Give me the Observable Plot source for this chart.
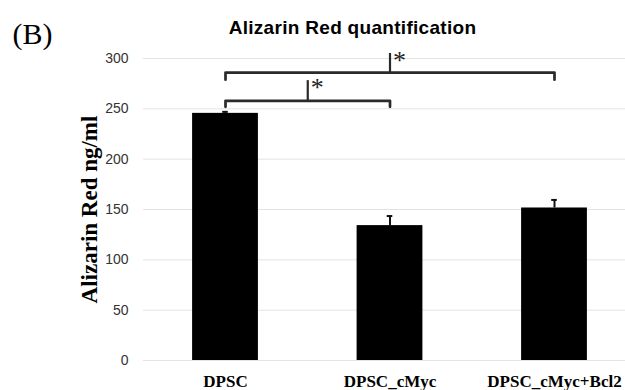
<!DOCTYPE html>
<html>
<head>
<meta charset="utf-8">
<script src="https://cdn.jsdelivr.net/npm/d3@7"></script>
<script src="https://cdn.jsdelivr.net/npm/@observablehq/plot@0.6"></script>
<style>
  body { margin: 0; background: white; }
  #chart svg { display: block; }
</style>
</head>
<body>
<div id="chart"></div>
<script>
const categories = ["DPSC", "DPSC_cMyc", "DPSC_cMyc+Bcl2"];
const values = [245.5, 134, 151.5];
const errors = [1.5, 9.5, 8];
const yTicks = [0, 50, 100, 150, 200, 250, 300];
const title = "Alizarin Red quantification";
const panelLabel = "(B)";
const yLabel = "Alizarin Red ng/ml";
// significance brackets: from/to category index, bracket height, tick depth, stem top
const bracketFrom = [0, 0];
const bracketTo = [1, 2];
const bracketY = [258, 286];
const bracketDrop = [6, 7];
const bracketStem = [278, 305];
const bracketLabel = ["*", "*"];

const bars = categories.map((c, i) => ({i, c, v: values[i], e: errors[i]}));
const halfBar = 0.2;
const capHalf = 0.017;

const brackets = bracketFrom.map((f, k) => ({
  a: f, b: bracketTo[k], y: bracketY[k], lo: bracketY[k] - bracketDrop[k],
  mid: (f + bracketTo[k]) / 2, top: bracketStem[k], label: bracketLabel[k]
}));
const bracketPaths = brackets.flatMap((b, k) => [
  {k, x: b.a, y: b.lo}, {k, x: b.a, y: b.y}, {k, x: b.b, y: b.y}, {k, x: b.b, y: b.lo}
]);

const serif = "Liberation Serif, Times New Roman, serif";
const sans = "Liberation Sans, Arial, sans-serif";

const chart = Plot.plot({
  width: 625,
  height: 390,
  marginLeft: 143,
  marginRight: 0,
  marginTop: 58,
  marginBottom: 30,
  style: {background: "white", overflow: "visible"},
  x: {domain: [-0.4985, 2.4316], axis: null},
  y: {domain: [0, 300], axis: null},
  marks: [
    Plot.gridY(yTicks, {stroke: "#e3e3e3", strokeOpacity: 1, strokeWidth: 1}),
    Plot.axisY({ticks: yTicks, tickSize: 0, tickPadding: 15, label: null,
      fontFamily: sans, fontSize: 14, fill: "#333"}),
    Plot.axisX({ticks: [0, 1, 2], tickFormat: i => categories[i], tickSize: 0, tickPadding: 14,
      label: null, fontFamily: serif, fontSize: 17, fontWeight: "bold", fill: "black"}),
    Plot.rectY(bars, {x1: d => d.i - halfBar, x2: d => d.i + halfBar, y1: 0, y2: "v", fill: "black"}),
    Plot.ruleX(bars, {x: "i", y1: "v", y2: d => d.v + d.e, stroke: "#111", strokeWidth: 2}),
    Plot.ruleY(bars, {x1: d => d.i - capHalf, x2: d => d.i + capHalf, y: d => d.v + d.e, stroke: "#111", strokeWidth: 2}),
    Plot.line(bracketPaths, {x: "x", y: "y", z: "k", stroke: "#2a2a2a", strokeWidth: 2.7, curve: "linear"}),
    Plot.ruleX(brackets, {x: "mid", y1: "y", y2: "top", stroke: "#2a2a2a", strokeWidth: 2.2}),
    Plot.text(brackets, {x: "mid", y: "top", text: "label", textAnchor: "start", dx: 3, dy: 7,
      fontFamily: serif, fontSize: 26, fill: "#222"}),
    Plot.text([title], {frameAnchor: "top", dx: -32, dy: -25, lineAnchor: "bottom", fontFamily: sans, fontSize: 19,
      fontWeight: "bold", fill: "black"}),
    Plot.text([panelLabel], {frameAnchor: "top-left", textAnchor: "start", dx: -131, dy: -15, lineAnchor: "bottom",
      fontFamily: serif, fontSize: 30, fill: "black"}),
    Plot.text([yLabel], {frameAnchor: "left", textAnchor: "middle", rotate: -90, dx: -54, fontFamily: serif, fontSize: 23,
      fontWeight: "bold", fill: "black"})
  ]
});
d3.select(chart).selectAll("text").filter(function () { return this.textContent === title; })
  .style("letter-spacing", "0.3px");
document.getElementById("chart").appendChild(chart);
</script>
</body>
</html>
